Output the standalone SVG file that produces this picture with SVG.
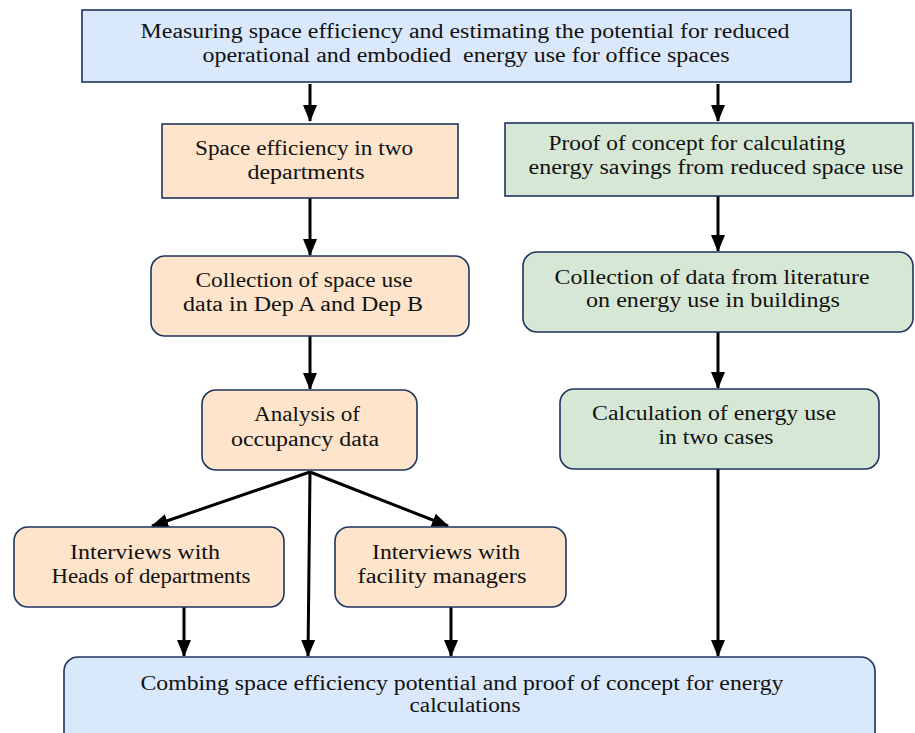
<svg xmlns="http://www.w3.org/2000/svg" width="915" height="733" viewBox="0 0 915 733">
<style>
.b{stroke:#1f3560;stroke-width:1.6}
.blue{fill:#dae8fc}
.peach{fill:#fde4cb}
.green{fill:#d6e8d5}
.t text{font-size:20px;fill:#111;text-anchor:middle;white-space:pre}
.c line{stroke:#000;stroke-width:3;fill:none}
</style>
<defs>
<marker id="ah" markerUnits="userSpaceOnUse" markerWidth="18" markerHeight="18" viewBox="0 0 18 18" refX="16" refY="9" orient="auto">
<path d="M0,2 L17,9 L0,16 Z" fill="#000"/>
</marker>
</defs>
<rect width="915" height="733" fill="#fff"/>
<g class="c" id="connectors">
<line x1="310" y1="84" x2="310" y2="121" marker-end="url(#ah)"/>
<line x1="718" y1="84" x2="718" y2="121" marker-end="url(#ah)"/>
<line x1="310" y1="198" x2="310" y2="255" marker-end="url(#ah)"/>
<line x1="718" y1="196" x2="718" y2="251" marker-end="url(#ah)"/>
<line x1="310" y1="336" x2="310" y2="389" marker-end="url(#ah)"/>
<line x1="718" y1="332" x2="718" y2="388" marker-end="url(#ah)"/>
<line x1="310" y1="472" x2="152" y2="526" marker-end="url(#ah)"/>
<line x1="310" y1="472" x2="448" y2="526" marker-end="url(#ah)"/>
<line x1="310" y1="472" x2="308" y2="656" marker-end="url(#ah)"/>
<line x1="184" y1="607" x2="184" y2="656" marker-end="url(#ah)"/>
<line x1="451" y1="607" x2="451" y2="656" marker-end="url(#ah)"/>
<line x1="718" y1="469" x2="718" y2="656" marker-end="url(#ah)"/>
</g>
<g class="t" font-family="'Liberation Serif', 'DejaVu Serif', serif">
<g id="top">
<rect class="b blue" x="82" y="10" width="769" height="72"/>
<text x="465" y="38" textLength="649" lengthAdjust="spacingAndGlyphs">Measuring space efficiency and estimating the potential for reduced</text>
<text x="466" y="62" textLength="527" lengthAdjust="spacingAndGlyphs" xml:space="preserve">operational and embodied  energy use for office spaces</text>
</g>
<g id="space">
<rect class="b peach" x="162" y="124" width="296" height="74"/>
<text x="304" y="155" textLength="218" lengthAdjust="spacingAndGlyphs">Space efficiency in two</text>
<text x="306" y="179" textLength="117" lengthAdjust="spacingAndGlyphs">departments</text>
</g>
<g id="collectA">
<rect class="b peach" x="151" y="256" width="318" height="80" rx="14"/>
<text x="304" y="287" textLength="217" lengthAdjust="spacingAndGlyphs">Collection of space use</text>
<text x="303" y="311" textLength="240" lengthAdjust="spacingAndGlyphs">data in Dep A and Dep B</text>
</g>
<g id="analysis">
<rect class="b peach" x="202" y="390" width="215" height="80" rx="14"/>
<text x="307" y="421" textLength="106" lengthAdjust="spacingAndGlyphs">Analysis of</text>
<text x="305" y="446" textLength="148" lengthAdjust="spacingAndGlyphs">occupancy data</text>
</g>
<g id="heads">
<rect class="b peach" x="14" y="527" width="270" height="80" rx="14"/>
<text x="145" y="559" textLength="150" lengthAdjust="spacingAndGlyphs">Interviews with</text>
<text x="151" y="583" textLength="199" lengthAdjust="spacingAndGlyphs">Heads of departments</text>
</g>
<g id="facility">
<rect class="b peach" x="335" y="527" width="231" height="80" rx="14"/>
<text x="446" y="559" textLength="148" lengthAdjust="spacingAndGlyphs">Interviews with</text>
<text x="442" y="583" textLength="169" lengthAdjust="spacingAndGlyphs">facility managers</text>
</g>
<g id="proof">
<rect class="b green" x="505" y="123" width="408" height="73"/>
<text x="697" y="150" textLength="297" lengthAdjust="spacingAndGlyphs">Proof of concept for calculating</text>
<text x="716" y="174" textLength="375" lengthAdjust="spacingAndGlyphs">energy savings from reduced space use</text>
</g>
<g id="literature">
<rect class="b green" x="523" y="252" width="390" height="80" rx="14"/>
<text x="712" y="284" textLength="315" lengthAdjust="spacingAndGlyphs">Collection of data from literature</text>
<text x="713" y="307" textLength="254" lengthAdjust="spacingAndGlyphs">on energy use in buildings</text>
</g>
<g id="calc">
<rect class="b green" x="560" y="389" width="319" height="80" rx="14"/>
<text x="714" y="420" textLength="244" lengthAdjust="spacingAndGlyphs">Calculation of energy use</text>
<text x="716" y="444" textLength="115" lengthAdjust="spacingAndGlyphs">in two cases</text>
</g>
<g id="combine">
<rect class="b blue" x="64" y="657" width="811" height="100" rx="14"/>
<text x="462" y="690" textLength="643" lengthAdjust="spacingAndGlyphs">Combing space efficiency potential and proof of concept for energy</text>
<text x="465" y="712" textLength="111" lengthAdjust="spacingAndGlyphs">calculations</text>
</g>
</g>
</svg>
